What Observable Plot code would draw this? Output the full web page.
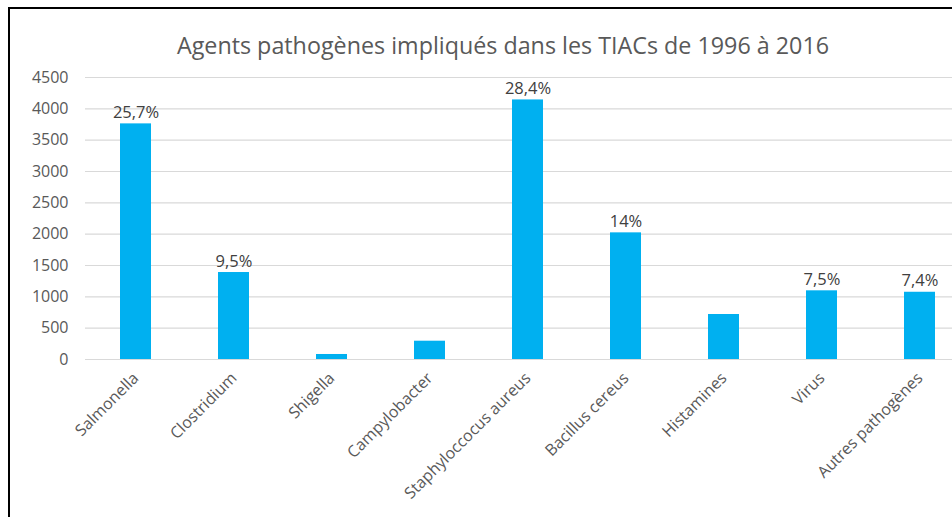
<!DOCTYPE html>
<html>
<head>
<meta charset="utf-8">
<script src="https://cdn.jsdelivr.net/npm/d3@7"></script>
<script src="https://cdn.jsdelivr.net/npm/@observablehq/plot@0.6"></script>
<style>
  html, body { margin: 0; padding: 0; background: #fff; }
  #wrap { position: relative; width: 952px; height: 517px; overflow: hidden; background: #fff; font-family: "Open Sans", sans-serif; }
  #frame { position: absolute; left: 8px; top: 7px; width: 1000px; height: 600px; border-left: 2px solid #000; border-top: 2px solid #000; box-sizing: border-box; pointer-events: none; }
  #title { position: absolute; left: 503px; top: 34px; transform: translateX(-50%); white-space: nowrap; font-size: 23.3px; line-height: 1; color: #595959; }
  #chart { position: absolute; left: 0; top: 0; }
</style>
</head>
<body>
<div id="wrap">
  <div id="chart"></div>
  <div id="title">Agents pathogènes impliqués dans les TIACs de 1996 à 2016</div>
  <div id="frame"></div>
</div>
<script>
const categories = ["Salmonella", "Clostridium", "Shigella", "Campylobacter", "Staphyloccocus aureus", "Bacillus cereus", "Histamines", "Virus", "Autres pathogènes"];
const counts = [3760, 1388, 80, 292, 4142, 2021, 718, 1096, 1073];
const pctLabels = ["25,7%", "9,5%", "", "", "28,4%", "14%", "", "7,5%", "7,4%"];
const yTicks = [0, 500, 1000, 1500, 2000, 2500, 3000, 3500, 4000, 4500];

const data = categories.map((name, i) => ({name, value: counts[i], pct: pctLabels[i]}));

const chart = Plot.plot({
  width: 952,
  height: 517,
  marginLeft: 85,
  marginRight: -18,
  marginTop: 77,
  marginBottom: 158,
  style: {fontFamily: "'Open Sans', sans-serif", fontSize: "16px", color: "#595959", background: "transparent", overflow: "visible"},
  x: {domain: categories, paddingInner: 0.68, paddingOuter: 0.34, label: null},
  y: {domain: [0, 4500], label: null},
  marks: [
    Plot.ruleY(yTicks, {stroke: "#D9D9D9", strokeWidth: 1.2}),
    Plot.barY(data, {x: "name", y: "value", fill: "#00B0F0"}),
    Plot.text(data.filter(d => d.pct), {x: "name", y: "value", text: "pct", lineAnchor: "bottom", dy: -6, fill: "#404040", fontSize: 16.5}),
    Plot.axisY({ticks: yTicks, tickSize: 0, tickPadding: 17, tickFormat: d => String(d), fill: "#595959", fontSize: 16}),
    Plot.axisX({tickSize: 0, tickRotate: -45, tickPadding: 16, fill: "#595959", fontSize: 16})
  ]
});
document.getElementById("chart").appendChild(chart);
</script>
</body>
</html>
